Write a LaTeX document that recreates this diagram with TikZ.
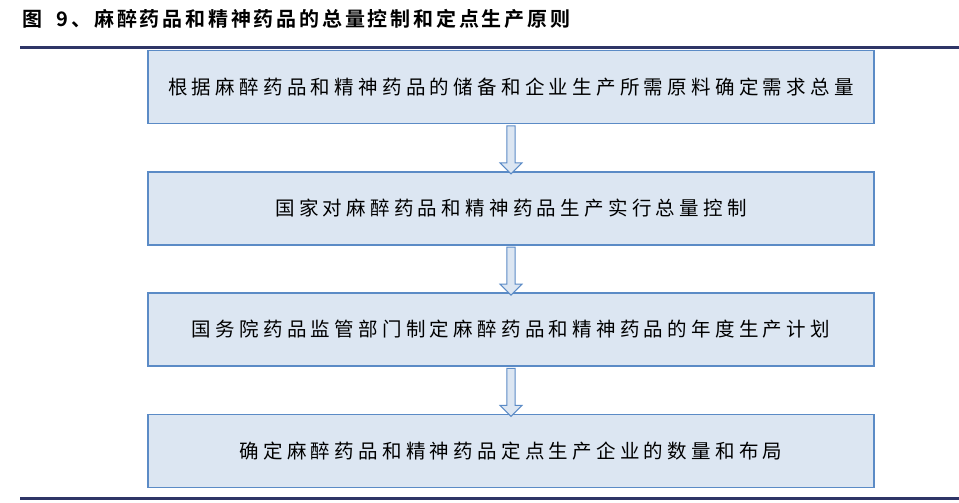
\documentclass[tikz,border=0pt]{standalone}
\usepackage{fontspec}
\setmainfont{Noto Sans CJK SC}[LetterSpace=22]
\newfontfamily\cjkb{Noto Sans CJK SC Bold}[LetterSpace=14]
\usetikzlibrary{shapes.arrows}
\definecolor{bfill}{HTML}{DCE6F2}
\definecolor{bline}{HTML}{5B8BC6}
\definecolor{navy}{HTML}{2E3567}
\begin{document}
\begin{tikzpicture}[x=1pt,y=-1pt,
  box/.style={draw=bline,fill=bfill,line width=1.2pt,minimum width=726pt,minimum height=73pt,inner sep=0pt,font=\fontsize{19.5}{22}\selectfont},
  arr/.style={single arrow,draw=bline,fill=bfill,line width=1pt,shape border rotate=270,minimum width=22pt,single arrow head extend=5pt,inner sep=2.5pt,minimum height=48pt,single arrow head indent=0pt}]
\useasboundingbox (0,0) rectangle (959,503);
\node[anchor=west,font=\cjkb\fontsize{20}{22}\selectfont,inner sep=0pt] (t) at (22,19) {图\ \ 9、麻醉药品和精神药品的总量控制和定点生产原则};
\draw[navy,line width=3pt] (20,48) -- (959,48);
\draw[navy,line width=3pt] (20,498) -- (959,498);
\node[box] (b1) at (511,87) {根据麻醉药品和精神药品的储备和企业生产所需原料确定需求总量};
\node[box] (b2) at (511,208.5) {国家对麻醉药品和精神药品生产实行总量控制};
\node[box] (b3) at (511,329.5) {国务院药品监管部门制定麻醉药品和精神药品的年度生产计划};
\node[box] (b4) at (511,451) {确定麻醉药品和精神药品定点生产企业的数量和布局};
\path (b1.south) -- (b2.north) node[midway,arr] (a1) {};
\path (b2.south) -- (b3.north) node[midway,arr] (a2) {};
\path (b3.south) -- (b4.north) node[midway,arr] (a3) {};
\end{tikzpicture}
\end{document}
